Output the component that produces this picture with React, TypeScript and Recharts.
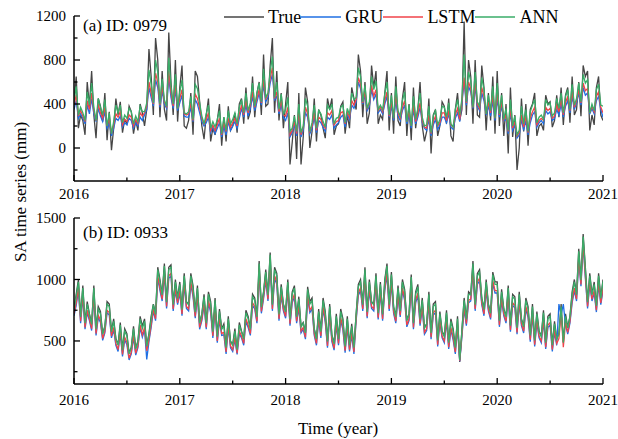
import React from 'react';
import { LineChart, Line, XAxis, YAxis, Legend } from 'recharts';

const FONT = '"Liberation Serif", "Times New Roman", serif';

// weekly-ish samples (4 per month), 2016-01 .. 2021-01
const START_YEAR = 2016;
const STEPS_PER_YEAR = 48;

const xTicks = [2016, 2016.5, 2017, 2017.5, 2018, 2018.5, 2019, 2019.5, 2020, 2020.5, 2021];
const yTicksA = [-200, 0, 200, 400, 600, 800, 1000, 1200];
const yTicksB = [250, 500, 750, 1000, 1250, 1500];

const series = [
  { key: 'tru', name: 'True', color: '#464646' },
  { key: 'gru', name: 'GRU', color: '#1f6fe3' },
  { key: 'lstm', name: 'LSTM', color: '#f0434a' },
  { key: 'ann', name: 'ANN', color: '#3aad68' },
];

// (a) ID: 0979 -- one line per year
const trueA = [
  420, 650, 180, 300, 250, 120, 600, 380, 700, 300, 90, 450, 380, 240, 500, 70, 330, -20, 180, 450, 300, 420, 140, 260, 220, 380, 330, 130, 250, 160, 400, 320, 200, 350, 900, 650, 300, 1000, 800, 280, 700, 350, 250, 1050, 600, 300, 800, 240,
  550, 750, 200, 180, 250, 500, 120, 700, 650, 420, 200, 80, 300, 450, 60, 180, 120, 250, 400, 20, 280, 60, 380, 160, 200, 320, 140, 400, 450, 220, 550, 260, 330, 650, 280, 500, 600, 300, 850, 380, 400, 750, 1000, 320, 700, 250, 500, 180,
  400, 600, -150, 50, 300, -100, 500, -150, 100, 550, 420, 0, 150, 450, 60, 350, 300, 180, 90, 450, 350, 450, 120, 200, 220, 380, 420, 130, 300, 180, 550, 450, 350, 850, 700, 280, 600, 220, 320, 750, 550, 700, 220, 300, 260, 500, 700, 160,
  500, 130, 650, 250, 200, 450, 600, 110, 400, 70, 550, 180, 350, 600, 200, 60, 150, 450, -50, 300, 350, 110, 200, 420, 380, 220, 450, 110, 60, 350, 500, 250, 350, 1150, 300, 800, 650, 220, 800, 300, 280, 750, 550, 160, 500, 250, 650, 130,
  700, 200, 500, 110, 400, -50, 550, 100, 300, -200, 0, 450, 150, 400, 20, 350, 400, 500, 110, 200, 220, 160, 480, 400, 420, 190, 250, 480, 280, 550, 210, 480, 550, 230, 650, 300, 350, 600, 290, 750, 650, 700, 160, 300, 210, 550, 650, 300,
  250,
];
const gruA = [
  350, 430, 270, 310, 270, 220, 390, 310, 450, 310, 240, 360, 290, 240, 330, 180, 230, 110, 180, 270, 250, 290, 190, 230, 210, 270, 250, 180, 230, 200, 280, 250, 300, 350, 550, 460, 380, 620, 550, 370, 520, 400, 360, 640, 460, 360, 530, 340,
  410, 480, 290, 280, 280, 370, 240, 440, 400, 320, 240, 200, 230, 280, 140, 190, 130, 180, 230, 100, 200, 120, 240, 160, 200, 240, 180, 270, 360, 280, 390, 290, 360, 470, 340, 420, 500, 390, 580, 420, 460, 590, 670, 440, 470, 310, 400, 280,
  250, 320, 100, 140, 210, 110, 280, 100, 160, 320, 280, 130, 180, 280, 140, 250, 230, 190, 150, 280, 260, 300, 180, 210, 230, 280, 300, 190, 310, 260, 390, 360, 420, 600, 540, 400, 480, 340, 380, 530, 440, 490, 320, 350, 310, 400, 470, 280,
  380, 250, 430, 290, 250, 340, 390, 220, 300, 180, 350, 220, 280, 370, 230, 180, 160, 260, 110, 210, 260, 170, 210, 280, 280, 230, 310, 190, 170, 270, 320, 240, 410, 600, 390, 560, 510, 360, 560, 380, 340, 500, 430, 300, 380, 290, 430, 250,
  450, 280, 380, 250, 260, 130, 320, 160, 210, 90, 120, 260, 160, 250, 120, 230, 300, 330, 190, 230, 250, 220, 340, 310, 330, 250, 270, 350, 300, 400, 280, 380, 430, 320, 470, 350, 410, 500, 390, 550, 480, 500, 310, 360, 310, 430, 470, 350,
  280,
];
const lstmA = [
  390, 480, 290, 340, 290, 240, 430, 350, 500, 340, 250, 400, 320, 270, 370, 200, 270, 130, 210, 310, 280, 330, 210, 260, 240, 300, 280, 200, 260, 220, 320, 290, 320, 380, 600, 500, 400, 680, 600, 390, 560, 420, 380, 700, 500, 380, 580, 360,
  450, 530, 310, 300, 310, 410, 250, 490, 450, 360, 270, 220, 260, 320, 160, 210, 160, 210, 270, 120, 230, 150, 270, 190, 230, 270, 200, 310, 390, 300, 430, 320, 390, 510, 370, 450, 530, 410, 630, 440, 490, 630, 730, 450, 510, 330, 430, 300,
  290, 370, 120, 160, 240, 130, 320, 120, 190, 370, 310, 150, 200, 320, 160, 280, 260, 210, 180, 320, 300, 340, 210, 240, 250, 320, 330, 220, 330, 280, 430, 390, 440, 640, 580, 410, 510, 360, 400, 570, 470, 530, 340, 370, 330, 430, 510, 290,
  420, 270, 480, 320, 270, 370, 430, 240, 330, 200, 390, 240, 310, 410, 250, 190, 180, 300, 130, 240, 290, 200, 230, 320, 320, 250, 340, 210, 190, 300, 360, 260, 430, 640, 410, 600, 540, 370, 600, 400, 360, 550, 470, 310, 420, 320, 480, 270,
  500, 300, 420, 260, 300, 150, 360, 180, 240, 110, 140, 300, 190, 290, 140, 270, 330, 370, 210, 250, 270, 250, 370, 340, 360, 270, 290, 390, 330, 440, 300, 410, 470, 340, 510, 370, 430, 530, 410, 590, 520, 540, 320, 380, 330, 470, 510, 370,
  320,
];
const annA = [
  430, 560, 300, 370, 320, 250, 510, 390, 590, 370, 250, 450, 370, 300, 440, 200, 320, 130, 240, 390, 320, 390, 230, 300, 270, 360, 330, 220, 290, 240, 380, 330, 330, 410, 710, 580, 410, 800, 690, 400, 630, 440, 380, 820, 560, 400, 670, 360,
  510, 620, 320, 310, 330, 470, 260, 580, 540, 410, 290, 220, 310, 390, 180, 240, 190, 260, 340, 130, 280, 160, 340, 220, 260, 320, 220, 370, 440, 320, 500, 340, 410, 590, 380, 500, 590, 420, 720, 460, 500, 690, 830, 460, 600, 350, 490, 310,
  350, 460, 150, 180, 290, 150, 400, 140, 200, 450, 380, 150, 230, 390, 180, 340, 310, 240, 190, 390, 350, 400, 220, 270, 280, 370, 390, 230, 360, 300, 500, 440, 460, 730, 650, 420, 570, 360, 420, 650, 530, 610, 350, 390, 350, 490, 600, 300,
  480, 270, 560, 340, 290, 430, 510, 240, 390, 200, 470, 260, 360, 500, 280, 200, 210, 380, 140, 290, 340, 210, 260, 380, 370, 280, 410, 220, 190, 350, 440, 300, 450, 850, 420, 690, 610, 370, 690, 420, 380, 640, 530, 310, 480, 340, 560, 270,
  590, 310, 480, 260, 360, 160, 440, 200, 290, 120, 160, 380, 220, 350, 150, 330, 390, 440, 230, 280, 300, 260, 440, 390, 410, 290, 320, 450, 360, 500, 320, 470, 530, 350, 580, 390, 450, 590, 420, 670, 590, 620, 320, 400, 340, 530, 580, 390,
  380,
];

// (b) ID: 0933 -- one line per year
const trueB = [
  760, 880, 1000, 700, 950, 650, 820, 720, 640, 950, 600, 780, 740, 560, 620, 820, 800, 580, 680, 520, 470, 650, 430, 600, 560, 400, 450, 620, 440, 500, 700, 620, 680, 460, 560, 700, 800, 720, 1100, 1000, 880, 1130, 820, 1100, 1120, 800, 1000, 850,
  980, 760, 1050, 820, 800, 1050, 950, 740, 950, 650, 720, 880, 650, 900, 820, 580, 850, 540, 760, 600, 640, 450, 700, 500, 470, 600, 420, 650, 580, 520, 750, 700, 600, 880, 850, 700, 1150, 780, 900, 1080, 880, 1220, 800, 1100, 1050, 720, 960, 800,
  740, 1000, 680, 900, 950, 700, 860, 620, 650, 570, 940, 820, 850, 600, 520, 760, 580, 850, 740, 500, 800, 550, 480, 720, 520, 760, 680, 460, 700, 470, 640, 450, 720, 960, 1000, 800, 1100, 740, 1000, 820, 800, 1050, 730, 980, 720, 1000, 1130, 800,
  1060, 780, 700, 950, 750, 1000, 920, 670, 720, 1040, 650, 900, 960, 680, 850, 610, 640, 900, 570, 800, 820, 510, 740, 580, 540, 750, 490, 680, 600, 450, 700, 330, 590, 850, 680, 900, 880, 1150, 800, 1050, 1080, 850, 760, 1000, 800, 730, 1060, 980,
  980, 670, 920, 760, 700, 950, 630, 880, 860, 610, 900, 680, 620, 850, 780, 550, 800, 510, 740, 580, 540, 750, 490, 700, 720, 470, 660, 520, 560, 800, 490, 720, 610, 700, 900, 1000, 880, 1250, 1000, 1370, 1100, 820, 1050, 880, 980, 790, 1050, 850,
  1000,
];
const gruB = [
  705, 790, 910, 645, 860, 595, 730, 665, 585, 860, 545, 690, 650, 505, 565, 730, 710, 525, 590, 465, 415, 560, 375, 510, 470, 345, 395, 530, 385, 445, 610, 530, 590, 350, 495, 610, 745, 665, 1010, 910, 825, 1040, 765, 1010, 1030, 745, 910, 795,
  890, 705, 960, 765, 745, 960, 860, 685, 860, 595, 665, 790, 595, 810, 730, 525, 760, 485, 670, 545, 550, 395, 610, 445, 415, 510, 390, 560, 525, 465, 660, 610, 545, 790, 760, 645, 1060, 725, 845, 990, 825, 1130, 745, 1010, 960, 665, 870, 745,
  685, 910, 625, 810, 860, 645, 770, 565, 595, 515, 850, 730, 760, 545, 465, 670, 525, 760, 650, 445, 710, 495, 425, 630, 465, 670, 590, 405, 610, 415, 550, 395, 665, 870, 910, 745, 1010, 685, 910, 765, 745, 960, 675, 890, 665, 910, 1040, 745,
  970, 725, 645, 860, 695, 910, 830, 615, 665, 950, 595, 810, 870, 625, 760, 555, 585, 810, 515, 710, 730, 455, 650, 525, 485, 660, 435, 590, 510, 395, 610, 335, 535, 760, 625, 810, 825, 1060, 745, 960, 990, 795, 705, 910, 745, 675, 970, 890,
  890, 615, 830, 705, 645, 860, 575, 790, 770, 555, 810, 625, 565, 760, 690, 495, 710, 455, 650, 525, 485, 660, 435, 610, 630, 415, 570, 465, 800, 710, 800, 630, 555, 645, 810, 910, 825, 1160, 945, 1280, 1010, 765, 960, 825, 890, 735, 960, 795,
  910,
];
const lstmB = [
  720, 810, 930, 660, 880, 610, 750, 680, 600, 880, 560, 710, 670, 520, 580, 750, 730, 540, 610, 480, 430, 580, 390, 530, 490, 360, 410, 550, 400, 460, 630, 550, 610, 420, 510, 630, 760, 680, 1030, 930, 840, 1060, 780, 1030, 1050, 760, 930, 810,
  910, 720, 980, 780, 760, 980, 880, 700, 880, 610, 680, 810, 610, 830, 750, 540, 780, 500, 690, 560, 570, 410, 630, 460, 430, 530, 400, 580, 540, 480, 680, 630, 560, 810, 780, 660, 1080, 740, 860, 1010, 840, 1150, 760, 1030, 980, 680, 890, 760,
  700, 930, 640, 830, 880, 660, 790, 580, 610, 530, 870, 750, 780, 560, 480, 690, 540, 780, 670, 460, 730, 510, 440, 650, 480, 690, 610, 420, 630, 430, 570, 410, 680, 890, 930, 760, 1030, 700, 930, 780, 760, 980, 690, 910, 680, 930, 1060, 760,
  990, 740, 660, 880, 710, 930, 850, 630, 680, 970, 610, 830, 890, 640, 780, 570, 600, 830, 530, 730, 750, 470, 670, 540, 500, 680, 450, 610, 530, 410, 630, 340, 550, 780, 640, 830, 840, 1080, 760, 980, 1010, 810, 720, 930, 760, 690, 990, 910,
  910, 630, 850, 720, 660, 880, 590, 810, 790, 570, 830, 640, 580, 780, 710, 510, 730, 470, 670, 540, 500, 680, 450, 630, 650, 430, 590, 480, 520, 730, 450, 650, 570, 660, 830, 930, 840, 1180, 960, 1300, 1030, 780, 980, 840, 910, 750, 980, 810,
  930,
];
const annB = [
  755, 860, 980, 695, 930, 645, 800, 715, 635, 930, 595, 760, 720, 555, 615, 800, 780, 575, 660, 515, 465, 630, 425, 580, 540, 395, 445, 600, 435, 495, 680, 600, 660, 455, 550, 680, 795, 715, 1080, 980, 875, 1110, 815, 1080, 1100, 795, 980, 845,
  960, 755, 1030, 815, 795, 1030, 930, 735, 930, 645, 715, 860, 645, 880, 800, 575, 830, 535, 740, 595, 620, 445, 680, 495, 465, 580, 430, 630, 575, 515, 730, 680, 595, 860, 830, 695, 1130, 775, 895, 1060, 875, 1200, 795, 1080, 1030, 715, 940, 795,
  735, 980, 675, 880, 930, 695, 840, 615, 645, 565, 920, 800, 830, 595, 515, 740, 575, 830, 720, 495, 780, 545, 475, 700, 515, 740, 660, 455, 680, 465, 620, 445, 715, 940, 980, 795, 1080, 735, 980, 815, 795, 1030, 725, 960, 715, 980, 1110, 795,
  1040, 775, 695, 930, 745, 980, 900, 665, 715, 1020, 645, 880, 940, 675, 830, 605, 635, 880, 565, 780, 800, 505, 720, 575, 535, 730, 485, 660, 580, 445, 680, 345, 585, 830, 675, 880, 875, 1130, 795, 1030, 1060, 845, 755, 980, 795, 725, 1040, 960,
  960, 665, 900, 755, 695, 930, 625, 860, 840, 605, 880, 675, 615, 830, 760, 545, 780, 505, 720, 575, 535, 730, 485, 680, 700, 465, 640, 515, 555, 780, 485, 700, 605, 695, 880, 980, 875, 1230, 995, 1350, 1080, 815, 1030, 875, 960, 785, 1030, 845,
  985,
];

function buildRows(tru: number[], gru: number[], lstm: number[], ann: number[]) {
  return tru.map((v, i) => ({
    t: START_YEAR + i / STEPS_PER_YEAR,
    tru: v,
    gru: gru[i],
    lstm: lstm[i],
    ann: ann[i],
  }));
}

const dataA = buildRows(trueA, gruA, lstmA, annA);
const dataB = buildRows(trueB, gruB, lstmB, annB);

const axisLine = { stroke: '#000', strokeWidth: 1.5 };
const textStyle = { fontFamily: FONT };

// ticks point inward; minor ticks are shorter and unlabeled
const makeXTick = (gap: number) => (props: any) => {
  const { x, y, payload } = props;
  const v = payload.value;
  const major = Math.abs(v - Math.round(v)) < 1e-6;
  return (
    <g>
      <line x1={x} x2={x} y1={y} y2={y - (major ? 6 : 3.5)} stroke="#000" strokeWidth={1.3} />
      {major && (
        <text x={x} y={y + gap} textAnchor="middle" fontSize={15} style={textStyle} fill="#000">
          {v}
        </text>
      )}
    </g>
  );
};

const makeYTick = (step: number) => (props: any) => {
  const { x, y, payload } = props;
  const v = payload.value;
  const major = v % step === 0;
  return (
    <g>
      <line x1={x} x2={x + (major ? 6 : 3.5)} y1={y} y2={y} stroke="#000" strokeWidth={1.3} />
      {major && (
        <text x={x - 8} y={y} dy="0.35em" textAnchor="end" fontSize={15} style={textStyle} fill="#000">
          {v}
        </text>
      )}
    </g>
  );
};

const renderLegend = (props: any) => {
  const payload = props.payload ?? [];
  const items = series
    .map((s) => payload.find((p: any) => p.dataKey === s.key || p.value === s.name))
    .filter(Boolean);
  return (
    <div style={{ display: 'flex', alignItems: 'center', fontFamily: FONT, fontSize: 18, lineHeight: '20px', whiteSpace: 'nowrap' }}>
      {items.map((it: any) => (
        <div key={it.value} style={{ display: 'flex', alignItems: 'center' }}>
          <svg width={40} height={20}>
            <line x1={0} x2={40} y1={10} y2={10} stroke={it.color} strokeWidth={1.5} />
          </svg>
          <span style={{ marginLeft: 4, color: '#000' }}>{it.value}</span>
        </div>
      ))}
    </div>
  );
};

function renderLines() {
  return series.map((s) => (
    <Line
      key={s.key}
      type="linear"
      dataKey={s.key}
      name={s.name}
      stroke={s.color}
      strokeWidth={1.3}
      dot={false}
      activeDot={false}
      isAnimationActive={false}
    />
  ));
}

export default function App() {
  return (
    <div style={{ position: 'absolute', left: 0, top: 0, width: 618, height: 439, background: '#fff' }}>
      <div style={{ position: 'absolute', left: 0, top: 0 }}>
        <LineChart width={618} height={215} data={dataA} margin={{ top: 16, right: 15, bottom: 4, left: 14 }}>
          <XAxis
            type="number"
            dataKey="t"
            domain={[2016, 2021]}
            ticks={xTicks}
            interval={0}
            tickSize={0}
            tickMargin={0}
            tickLine={false}
            axisLine={axisLine}
            height={30}
            allowDataOverflow
            tick={makeXTick(18)}
          />
          <YAxis
            type="number"
            domain={[-300, 1200]}
            ticks={yTicksA}
            interval={0}
            tickSize={0}
            tickMargin={0}
            tickLine={false}
            axisLine={axisLine}
            width={60}
            allowDataOverflow
            tick={makeYTick(400)}
          />
          <Legend
            layout="horizontal"
            verticalAlign="middle"
            align="center"
            content={renderLegend}
            wrapperStyle={{ top: 7, left: 224, width: 'auto', height: 'auto' }}
          />
          {renderLines()}
        </LineChart>
      </div>
      <div style={{ position: 'absolute', left: 0, top: 200 }}>
        <LineChart width={618} height={239} data={dataB} margin={{ top: 18, right: 15, bottom: 25, left: 14 }}>
          <XAxis
            type="number"
            dataKey="t"
            domain={[2016, 2021]}
            ticks={xTicks}
            interval={0}
            tickSize={0}
            tickMargin={0}
            tickLine={false}
            axisLine={axisLine}
            height={30}
            allowDataOverflow
            tick={makeXTick(21)}
          />
          <YAxis
            type="number"
            domain={[150, 1500]}
            ticks={yTicksB}
            interval={0}
            tickSize={0}
            tickMargin={0}
            tickLine={false}
            axisLine={axisLine}
            width={60}
            allowDataOverflow
            tick={makeYTick(500)}
          />
          {renderLines()}
        </LineChart>
      </div>
      <svg width={618} height={439} style={{ position: 'absolute', left: 0, top: 0, pointerEvents: 'none' }}>
        <text x={83} y={31} fontSize={17} style={textStyle} fill="#000">(a) ID: 0979</text>
        <text x={83} y={238} fontSize={17} style={textStyle} fill="#000">(b) ID: 0933</text>
        <text
          x={20}
          y={192}
          transform="rotate(-90 20 192)"
          textAnchor="middle"
          dy="0.35em"
          fontSize={17}
          style={textStyle}
          fill="#000"
        >
          SA time series (mm)
        </text>
        <text x={338} y={434} textAnchor="middle" fontSize={17} style={textStyle} fill="#000">
          Time (year)
        </text>
      </svg>
    </div>
  );
}
